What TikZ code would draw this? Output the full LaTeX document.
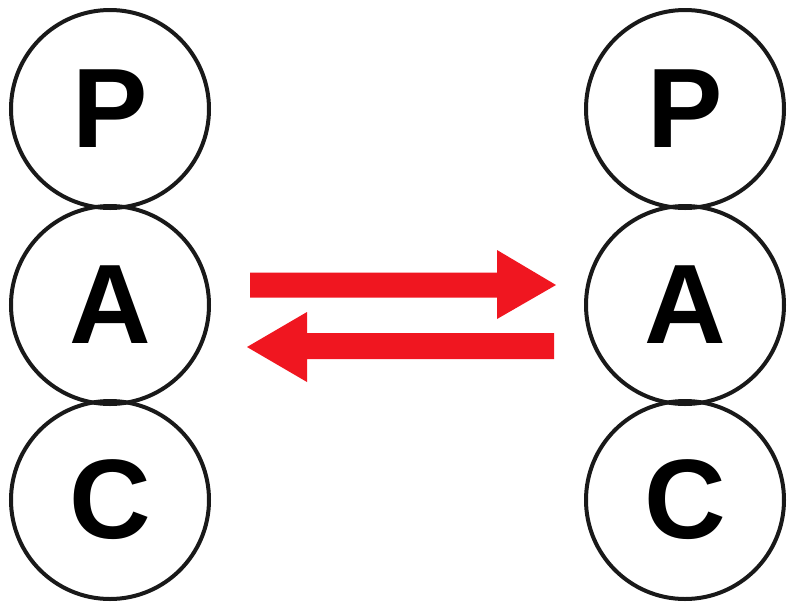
\documentclass[tikz,border=0pt]{standalone}
\usepackage{fontspec}
\setmainfont{Liberation Sans}
\definecolor{arrowred}{RGB}{240,22,32}
\begin{document}
\begin{tikzpicture}[x=1pt,y=-1pt,
  ring/.style={circle,draw=black!90,line width=4pt,minimum size=198pt,inner sep=0pt,
    font=\fontsize{113}{113}\selectfont\bfseries},
  bigarrow/.style={fill=arrowred,draw=none}]
\useasboundingbox (0,0) rectangle (788,606);
\fill[white] (0,0) rectangle (788,606);
\node[ring] (lp) at (110,109) {P};
\node[ring] (la) at (110,305) {A};
\node[ring] (lc) at (110,500) {C};
\node[ring] (rp) at (685,109) {P};
\node[ring] (ra) at (685,305) {A};
\node[ring] (rc) at (685,500) {C};
% top arrow (left to right)
\coordinate (t1) at (250,285);
\coordinate (t2) at (556,285);
\fill[bigarrow] (t1) ++(0,-12.5) -- ++(247,0) -- (497,250) -- (t2) -- (497,319) -- (497,297.5) -- (250,297.5) -- cycle;
% bottom arrow (right to left)
\coordinate (b1) at (554,346);
\coordinate (b2) at (247,347);
\fill[bigarrow] (b1) ++(0,-13) -- (307,333) -- (307,312) -- (b2) -- (307,382) -- (307,359) -- (554,359) -- cycle;
\end{tikzpicture}
\end{document}
